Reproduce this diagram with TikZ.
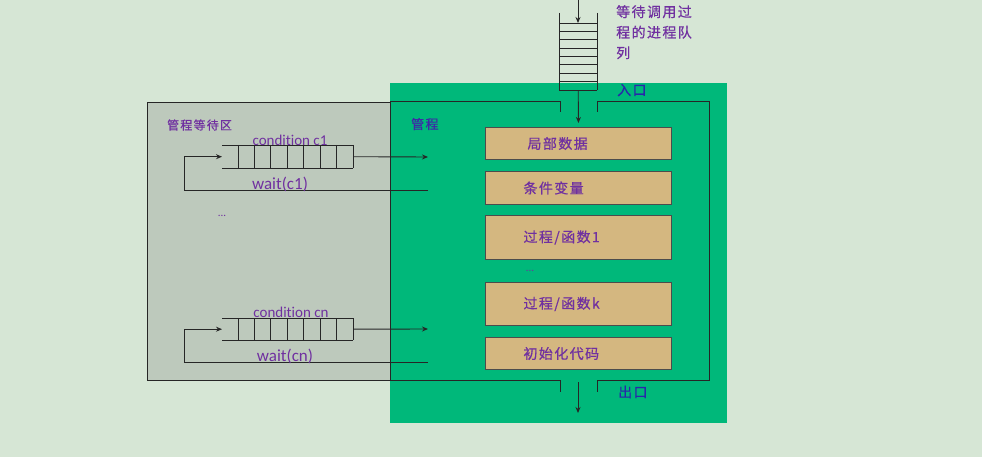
\documentclass[tikz,border=0pt]{standalone}
\usepackage{fontspec}
\setmainfont{Carlito}[Ligatures=NoCommon]
\newfontfamily\cjk[LetterSpace=10,FakeBold=0.6]{Noto Sans CJK SC}
\usetikzlibrary{arrows.meta}
\definecolor{bgc}{RGB}{214,230,213}
\definecolor{grayc}{RGB}{189,201,188}
\definecolor{mgreen}{RGB}{0,184,122}
\definecolor{tanc}{RGB}{212,183,128}
\definecolor{purp}{RGB}{112,48,160}
\definecolor{dblue}{RGB}{40,40,170}
\begin{document}
\begin{tikzpicture}[x=1pt,y=-1pt,
  line/.style={draw=black!85, line width=0.9pt},
  arr/.style={line, -{Stealth[length=6pt,width=5pt]}},
  tbox/.style={draw=black!70, line width=1pt, fill=tanc, anchor=north west,
    minimum width=186pt, text width=110pt, align=left, inner xsep=38pt, inner ysep=0pt,
    text=purp, font=\cjk\fontsize{14}{16}\selectfont},
  lbl/.style={text=purp, inner sep=0pt},
  cn/.style={text=purp, inner sep=0pt, anchor=west, font=\cjk\fontsize{14}{16}\selectfont},
  qbox/.style={inner sep=0pt, anchor=north west}
]
\fill[bgc] (0,0) rectangle (982,457);
\useasboundingbox (0,0) rectangle (982,457);

% monitor (green) and waiting area (gray)
\node[fill=mgreen, qbox, minimum width=337pt, minimum height=340pt] (mon) at (390,83) {};
\node[draw=black!85, line width=1pt, fill=grayc, qbox, minimum width=243pt, minimum height=278pt] (wa) at (147,102) {};

% inner frame with entrance and exit gaps
\draw[line] (560,112) -- (560,101) -- (390,101) -- (390,380) -- (560,380) -- (560,392);
\draw[line] (597,112) -- (597,101) -- (709,101) -- (709,380) -- (597,380) -- (597,392);

% inner boxes
\node[tbox, minimum height=32pt] (b1) at (485,127) {\hspace*{4pt}局部数据};
\node[tbox, minimum height=33pt] (b2) at (485,171) {条件变量};
\node[tbox, minimum height=44pt] (b3) at (485,215) {过程/函数1};
\node[tbox, minimum height=43pt] (b4) at (485,282) {过程/函数k};
\node[tbox, minimum height=32pt] (b5) at (485,337) {初始化代码};
\node[lbl, font=\fontsize{11}{12}\selectfont] (dm) at (530,271) {...};

% top queue
\node[qbox, minimum width=38pt, minimum height=77pt] (tq) at (559,13) {};
\draw[line] (tq.north west) -- (tq.south west) (tq.north east) -- (tq.south east);
\foreach \y in {23,31.4,39.75,48.1,56.5,64.9,73.25,81.6,90}
  \draw[line] (559,\y) -- (597,\y);
\coordinate (tin) at (578,0);
\coordinate (ttop) at (578,23);
\draw[arr] (tin) -- (ttop);
\draw[arr, shorten >=4pt] (tq.south) -- (b1.north);
\node[cn, anchor=north west, align=left, font=\cjk\fontsize{14}{20.5}\selectfont] (tqt) at (616,5) {等待调用过\\程的进程队\\列};

% entrance / exit
\node[cn, text=dblue] (ent) at (617,90) {入口};
\node[cn, text=dblue] (ext) at (618,392) {出口};
\coordinate (ex1) at (578,382);
\coordinate (ex2) at (578,413);
\draw[arr] (ex1) -- (ex2);

% labels
\node[cn, font=\cjk\fontsize{12}{14}\selectfont] (wat) at (167,125) {管程等待区};
\node[cn, text=dblue!70!purp, font=\cjk\fontsize{13}{14}\selectfont] (mt) at (411,124) {管程};

% condition queue c1
\node[qbox, minimum width=131pt, minimum height=23pt] (q1) at (222,145) {};
\draw[line] (q1.north west) -- (q1.north east) (q1.south west) -- (q1.south east);
\foreach \x in {238,254.4,270.9,287.3,303.7,320.1,336.6,353}
  \draw[line] (\x,145) -- (\x,168);
\coordinate (o1) at (428,157);
\coordinate (w1) at (428,190);
\coordinate (l1) at (184,190);
\draw[arr] (q1.east) -- (o1);
\draw[arr] (w1) -- (l1) |- (q1.west);
\node[lbl, font=\fontsize{15}{16}\selectfont] (ct1) at (290,140) {condition c1};
\node[lbl, font=\fontsize{17}{18}\selectfont] (wt1) at (280,184) {wait(c1)};

\node[lbl, font=\fontsize{11}{12}\selectfont] (dl) at (222,216) {...};

% condition queue cn
\node[qbox, minimum width=131pt, minimum height=22pt] (qn) at (222,318) {};
\draw[line] (qn.north west) -- (qn.north east) (qn.south west) -- (qn.south east);
\foreach \x in {238,254.4,270.9,287.3,303.7,320.1,336.6,353}
  \draw[line] (\x,318) -- (\x,340);
\coordinate (on) at (428,329);
\coordinate (wn) at (428,362);
\coordinate (ln) at (184,362);
\draw[arr] (qn.east) -- (on);
\draw[arr] (wn) -- (ln) |- (qn.west);
\node[lbl, font=\fontsize{15}{16}\selectfont] (ctn) at (291,312) {condition cn};
\node[lbl, font=\fontsize{17}{18}\selectfont] (wtn) at (285,356) {wait(cn)};
\end{tikzpicture}
\end{document}
